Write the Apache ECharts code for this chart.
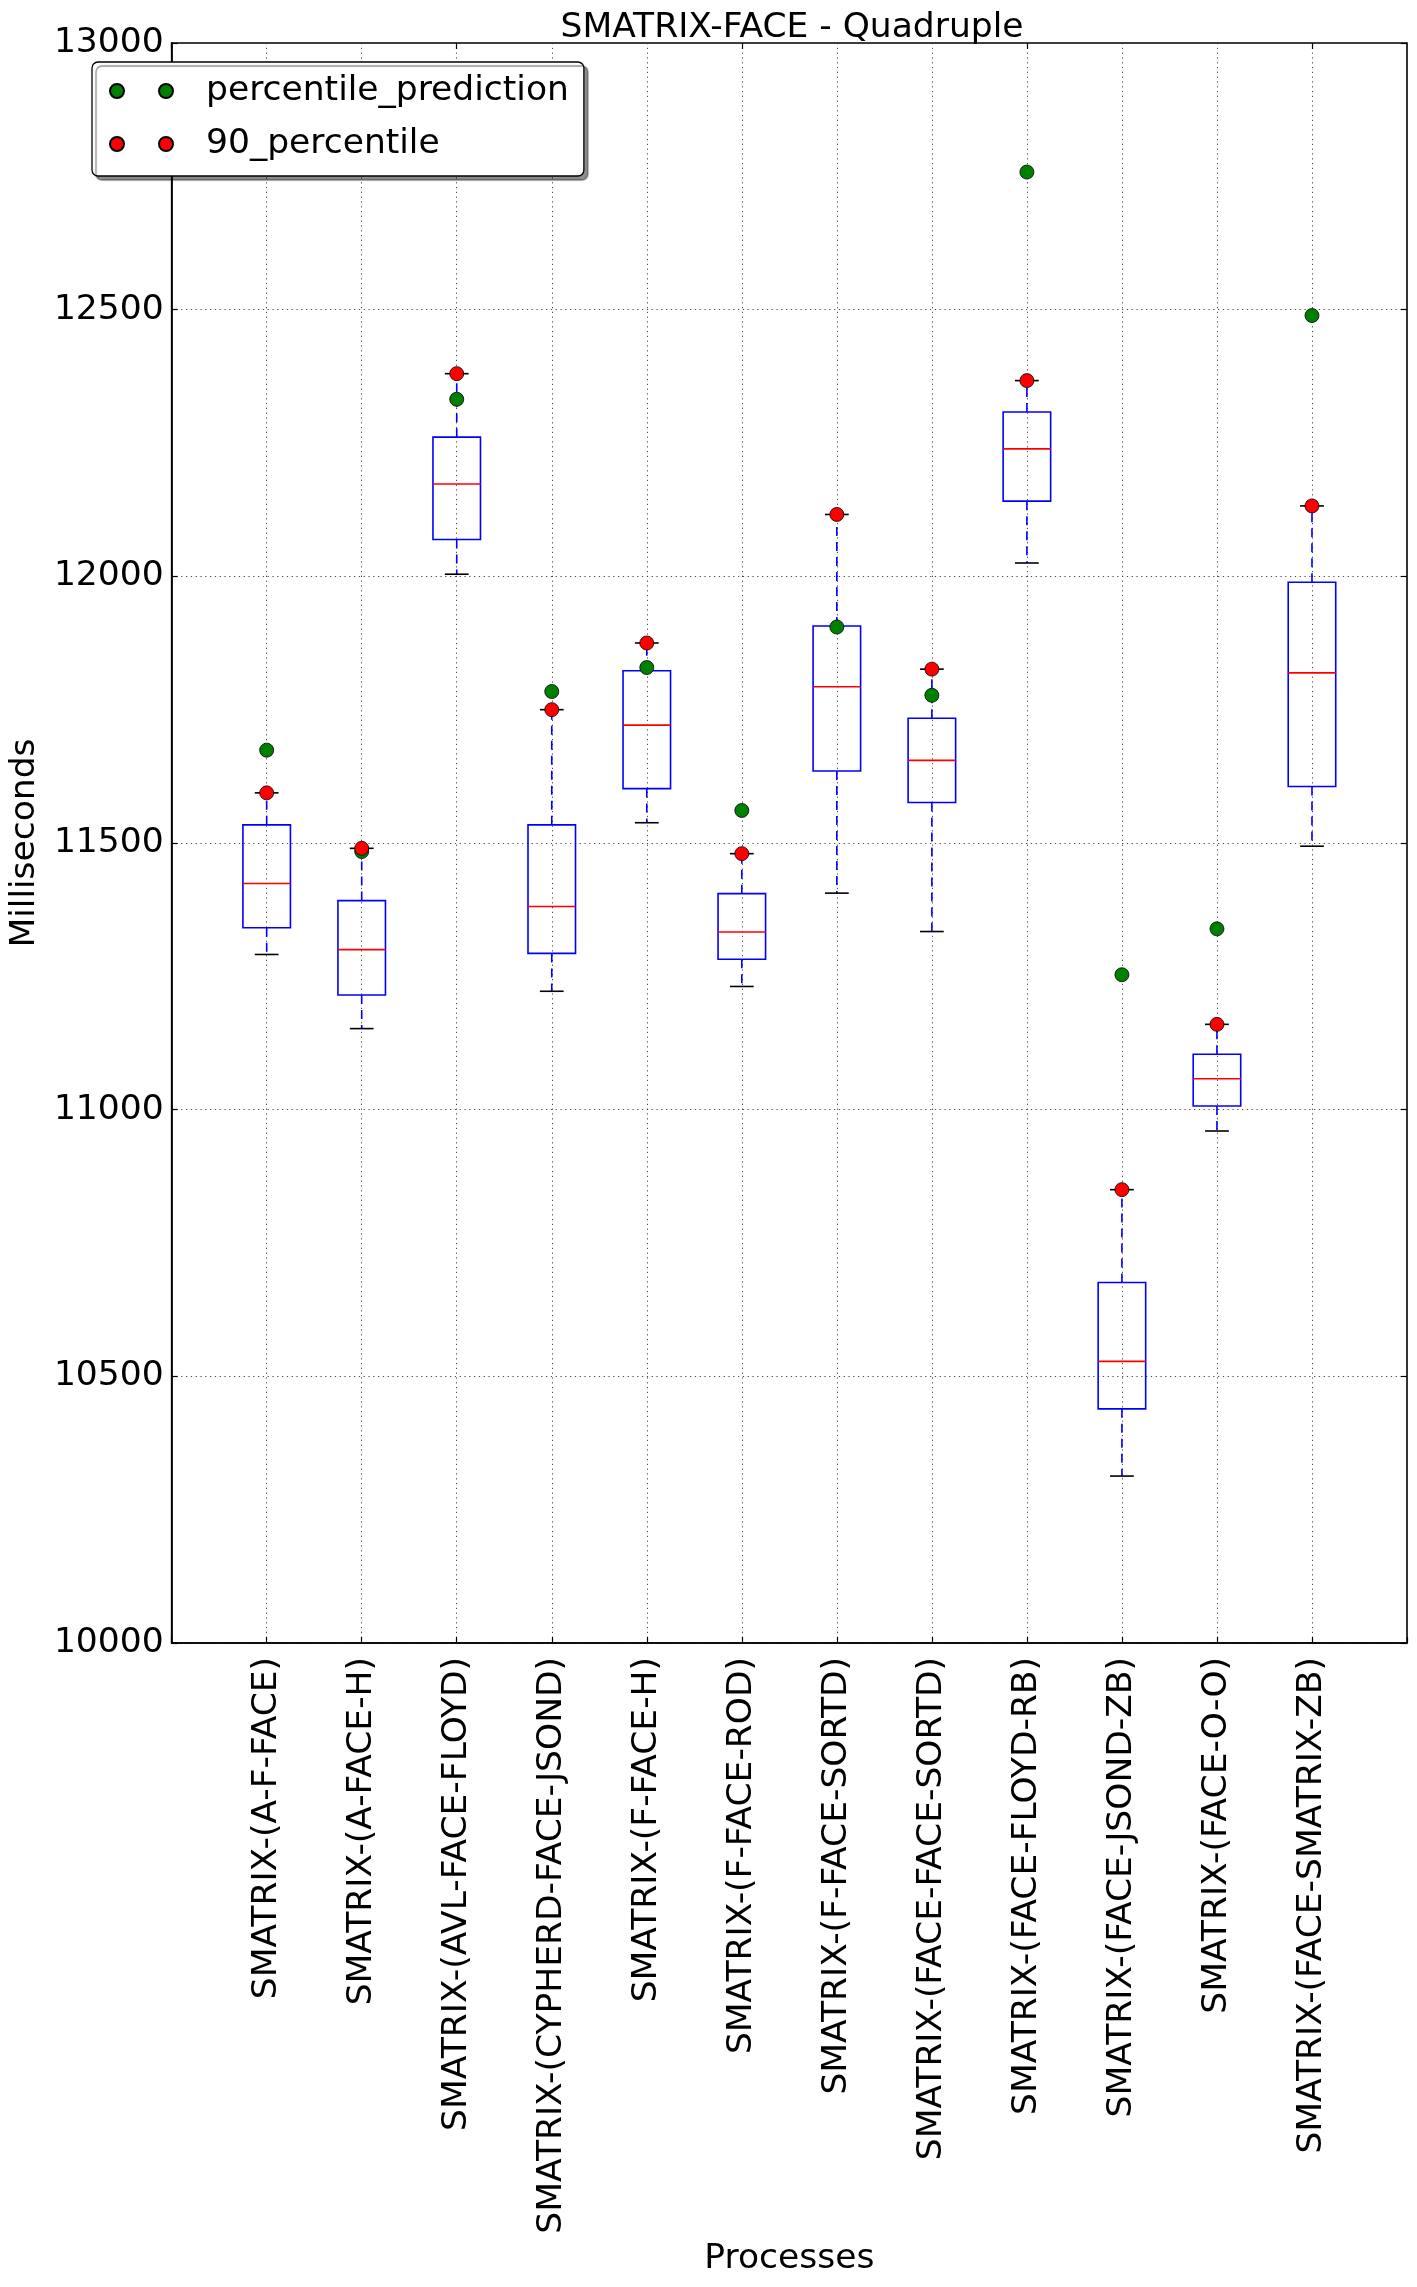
<!DOCTYPE html>
<html>
<head>
<meta charset="utf-8">
<script src="https://cdn.jsdelivr.net/npm/echarts@6/dist/echarts.min.js"></script>
<style>
html,body{margin:0;padding:0;background:#fff;}
#chart{width:1417px;height:2287px;}
</style>
</head>
<body>
<div id="chart"></div>
<script>
const categories = [
  'SMATRIX-(A-F-FACE)', 'SMATRIX-(A-FACE-H)', 'SMATRIX-(AVL-FACE-FLOYD)',
  'SMATRIX-(CYPHERD-FACE-JSOND)', 'SMATRIX-(F-FACE-H)', 'SMATRIX-(F-FACE-ROD)',
  'SMATRIX-(F-FACE-SORTD)', 'SMATRIX-(FACE-FACE-SORTD)', 'SMATRIX-(FACE-FLOYD-RB)',
  'SMATRIX-(FACE-JSOND-ZB)', 'SMATRIX-(FACE-O-O)', 'SMATRIX-(FACE-SMATRIX-ZB)'
];
const whiskerLow = [11291, 11152, 12004, 11222, 11538, 11231, 11406, 11334, 12025, 10313, 10960, 11494];
const q1Values   = [11341, 11215, 12069, 11293, 11602, 11282, 11635, 11576, 12141, 10439, 11007, 11606];
const medians    = [11424, 11300, 12173, 11381, 11721, 11333, 11793, 11655, 12239, 10528, 11058, 11819];
const q3Values   = [11534, 11392, 12261, 11534, 11823, 11405, 11907, 11734, 12308, 10676, 11104, 11989];
const percentile90 = [11594, 11490, 12380, 11750, 11875, 11480, 12116, 11826, 12367, 10850, 11160, 12132];
const prediction   = [11674, 11484, 12332, 11784, 11829, 11561, 11905, 11777, 12758, 11253, 11339, 12489];
const yTicks = [10000, 10500, 11000, 11500, 12000, 12500, 13000];

const FONT = 'DejaVu Sans';
const FS = 34.5;
// axis categories padded with empty slots at both ends (positions 0 and 13)
const axisCats = [''].concat(categories, ['']);

const boxData = categories.map((c, i) => [i + 1, whiskerLow[i], q1Values[i], medians[i], q3Values[i], percentile90[i]]);
const predData = categories.map((c, i) => [i + 1, prediction[i]]);
const p90Data = categories.map((c, i) => [i + 1, percentile90[i]]);

function renderBox(params, api) {
  const x = api.value(0);
  const lo = api.coord([x, api.value(1)]);
  const q1 = api.coord([x, api.value(2)]);
  const md = api.coord([x, api.value(3)]);
  const q3 = api.coord([x, api.value(4)]);
  const hi = api.coord([x, api.value(5)]);
  const unit = api.size([1, 0])[0];
  const bw = unit * 0.5, cw = bw * 0.5, cx = q1[0];
  const lw = 1.6;
  const dash = {stroke: '#0000ff', lineWidth: lw, lineDash: [9, 6]};
  return {
    type: 'group',
    children: [
      {type: 'line', shape: {x1: cx, y1: q3[1], x2: cx, y2: hi[1]}, style: dash},
      {type: 'line', shape: {x1: cx, y1: q1[1], x2: cx, y2: lo[1]}, style: dash},
      {type: 'line', shape: {x1: cx - cw / 2, y1: hi[1], x2: cx + cw / 2, y2: hi[1]}, style: {stroke: '#000', lineWidth: lw}},
      {type: 'line', shape: {x1: cx - cw / 2, y1: lo[1], x2: cx + cw / 2, y2: lo[1]}, style: {stroke: '#000', lineWidth: lw}},
      {type: 'rect', shape: {x: cx - bw / 2, y: q3[1], width: bw, height: q1[1] - q3[1]}, style: {fill: 'none', stroke: '#0000ff', lineWidth: lw}},
      {type: 'line', shape: {x1: cx - bw / 2, y1: md[1], x2: cx + bw / 2, y2: md[1]}, style: {stroke: '#ff0000', lineWidth: lw}}
    ]
  };
}

const chart = echarts.init(document.getElementById('chart'), null, {renderer: 'canvas'});
const gridLine = {show: true, lineStyle: {color: '#333', width: 0.9, type: [1.2, 3.6]}};
const option = {
  backgroundColor: '#fff',
  animation: false,
  textStyle: {fontFamily: FONT},
  title: {
    text: 'SMATRIX-FACE - Quadruple',
    left: 787, top: 6, textAlign: 'center',
    textStyle: {fontFamily: FONT, fontSize: FS, fontWeight: 'normal', color: '#000'}
  },
  legend: {
    orient: 'vertical', left: 92, top: 62,
    padding: [9, 15, 12, 17],
    itemGap: 13, itemWidth: 63, itemHeight: 14,
    align: 'left',
    backgroundColor: '#fff', borderColor: '#000', borderWidth: 1.3, borderRadius: 6,
    shadowColor: 'rgba(0,0,0,0.45)', shadowBlur: 1, shadowOffsetX: 4, shadowOffsetY: 4,
    icon: 'path://M0,7a7,7 0 1,0 14,0a7,7 0 1,0 -14,0M49,7a7,7 0 1,0 14,0a7,7 0 1,0 -14,0',
    textStyle: {fontFamily: FONT, fontSize: FS, color: '#000', lineHeight: 40, padding: [0, 0, 0, 28]},
    data: ['percentile_prediction', '90_percentile']
  },
  grid: {left: 167, right: 10, top: 43, bottom: 644, show: true, borderColor: '#000', borderWidth: 1.6, backgroundColor: 'transparent'},
  xAxis: [{
    type: 'category', data: axisCats, boundaryGap: false,
    name: 'Processes', nameLocation: 'middle', nameGap: 596,
    nameTextStyle: {fontFamily: FONT, fontSize: FS, color: '#000'},
    axisLine: {lineStyle: {color: '#000', width: 1.6}},
    axisTick: {inside: true, length: 6, lineStyle: {color: '#000', width: 1.2}},
    axisLabel: {rotate: 90, margin: 14, fontFamily: FONT, fontSize: FS, color: '#000', interval: 0},
    splitLine: gridLine
  }, {
    type: 'category', data: axisCats, boundaryGap: false, position: 'top',
    axisLine: {show: false}, axisLabel: {show: false}, splitLine: {show: false},
    axisTick: {inside: true, length: 6, lineStyle: {color: '#000', width: 1.2}}
  }],
  yAxis: [{
    type: 'value', min: 10000, max: 13000, interval: 500,
    name: 'Milliseconds', nameLocation: 'middle', nameGap: 113, nameRotate: 90,
    nameTextStyle: {fontFamily: FONT, fontSize: FS, color: '#000'},
    axisLine: {show: true, lineStyle: {color: '#000', width: 1.6}},
    axisTick: {show: true, inside: true, length: 6, lineStyle: {color: '#000', width: 1.2}},
    axisLabel: {margin: 8, fontFamily: FONT, fontSize: FS, color: '#000',
      formatter: v => yTicks.indexOf(v) >= 0 ? String(v) : ''},
    splitLine: gridLine
  }, {
    type: 'value', min: 10000, max: 13000, interval: 500, position: 'right',
    axisLine: {show: false}, axisLabel: {show: false}, splitLine: {show: false},
    axisTick: {show: true, inside: true, length: 6, lineStyle: {color: '#000', width: 1.2}}
  }],
  series: [{
    type: 'custom', name: 'box', renderItem: renderBox, data: boxData,
    encode: {x: 0, y: [1, 2, 3, 4, 5]}, z: 2
  }, {
    type: 'scatter', name: 'percentile_prediction', data: predData,
    symbol: 'circle', symbolSize: 14,
    itemStyle: {color: '#008000', borderColor: '#000', borderWidth: 0.8, opacity: 1}, z: 3
  }, {
    type: 'scatter', name: '90_percentile', data: p90Data,
    symbol: 'circle', symbolSize: 14,
    itemStyle: {color: '#ff0000', borderColor: '#000', borderWidth: 0.8, opacity: 1}, z: 4
  }]
};
chart.setOption(option);
</script>
</body>
</html>
